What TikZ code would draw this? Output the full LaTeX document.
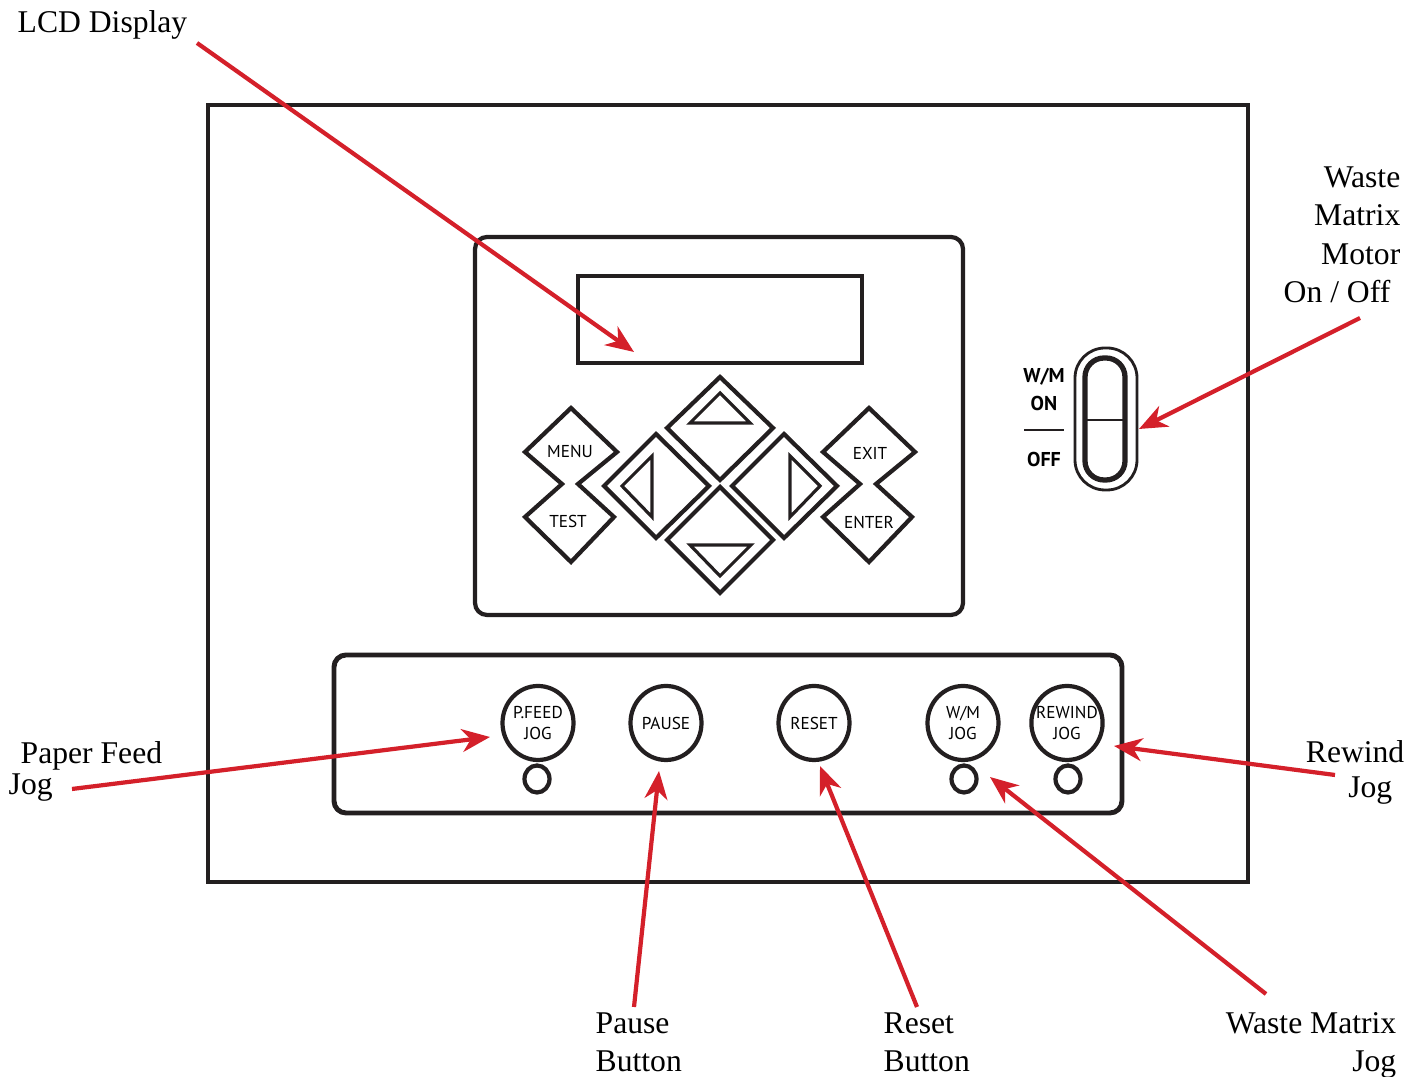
\documentclass[tikz,border=0pt]{standalone}
\usepackage{fontspec}
\setmainfont{Liberation Serif}
\newfontfamily\panelfont{PT Sans}
\usepackage{xcolor}
\usetikzlibrary{arrows.meta,shapes.geometric}
\definecolor{calloutred}{RGB}{212,32,42}
\definecolor{panelink}{RGB}{35,31,32}
\tikzset{
  lbl/.style={inner sep=0pt, font=\fontsize{9}{11}\selectfont},
  pointer/.style={-{Stealth[length=8pt,width=6.5pt,inset=2.5pt]}, draw=calloutred, line width=1.2pt},
  outline/.style={draw=panelink, line width=1.2pt},
  keytext/.style={inner sep=0pt, font=\panelfont\fontsize{4.9}{6}\selectfont},
  swtext/.style={inner sep=0pt, font=\panelfont\bfseries\fontsize{5.7}{6}\selectfont},
  btn/.style={ellipse, draw=panelink, line width=1.2pt, minimum width=7.1mm, minimum height=7.4mm,
              inner sep=0pt, align=center, font=\panelfont\fontsize{4.9}{6}\selectfont},
  led/.style={ellipse, draw=panelink, line width=1.2pt, minimum width=2.5mm, minimum height=2.7mm, inner sep=0pt},
}
\begin{document}
\begin{tikzpicture}[x=0.1mm, y=-0.1mm]
  \useasboundingbox (0,0) rectangle (1424,1077);

  % housing
  \draw[outline] (208,105) rectangle (1248,882);

  % keypad with display
  \draw[outline, rounded corners=1.2mm] (475,237) rectangle (963,615);
  \draw[outline] (578,276) rectangle (862,363);

  % menu / test and exit / enter keys
  \draw[outline] (571,408) -- (617,452) -- (578,484) -- (614,517) -- (571,562)
                 -- (525,517) -- (562,484) -- (525,452) -- cycle;
  \draw[outline] (869,408) -- (915,452) -- (876,484) -- (912,517) -- (869,562)
                 -- (823,517) -- (860,484) -- (823,452) -- cycle;
  \node[keytext] (menu) at (570,451) {MENU};
  \node[keytext] (test) at (568,521) {TEST};
  \node[keytext] (exit) at (870,453) {EXIT};
  \node[keytext] (enter) at (869,522) {ENTER};

  % arrow keys
  \draw[outline] (720,377) -- (773,428) -- (720,480) -- (667,428) -- cycle;
  \draw[outline, line width=0.9pt] (720,393) -- (750,423) -- (690,423) -- cycle;
  \draw[outline] (720,487) -- (773,540) -- (720,593) -- (667,540) -- cycle;
  \draw[outline, line width=0.9pt] (690,545) -- (751,545) -- (720,576) -- cycle;
  \draw[outline] (656,434) -- (709,486) -- (656,538) -- (604,486) -- cycle;
  \draw[outline, line width=0.9pt] (652,456) -- (652,517) -- (622,486) -- cycle;
  \draw[outline] (784,434) -- (837,486) -- (784,538) -- (732,486) -- cycle;
  \draw[outline, line width=0.9pt] (790,456) -- (790,517) -- (820,486) -- cycle;

  % rocker switch
  \draw[outline, line width=0.8pt, rounded corners=3mm] (1075,348) rectangle (1137,490);
  \draw[outline, line width=1.5pt, rounded corners=1.9mm] (1085,358) rectangle (1125,480);
  \draw[outline, line width=0.8pt] (1085,420) -- (1125,420);
  \node[swtext, anchor=base] (swwm) at (1044,383) {W/M};
  \node[swtext, anchor=base] (swon) at (1044,411) {ON};
  \draw[outline, line width=0.5pt] (1024,430) -- (1064,430);
  \node[swtext, anchor=base] (swoff) at (1044,467) {OFF};

  % button strip
  \draw[outline, line width=1.4pt, rounded corners=1.2mm] (334,655) rectangle (1122,813);
  \node[btn] (pfeed) at (538,723) {P.FEED\\JOG};
  \node[btn] (pause) at (666,723) {PAUSE};
  \node[btn] (reset) at (814,723) {RESET};
  \node[btn] (wmjog) at (963,723) {W/M\\JOG};
  \node[btn, inner xsep=-1.6pt] (rewind) at (1067,723) {REWIND\\JOG};
  \node[led] (pfled) at (537,779) {};
  \node[led] (wmled) at (964,779) {};
  \node[led] (rwled) at (1068,779) {};

  % callout texts
  \node[lbl, anchor=base west] (lcdlbl) at (17,33) {LCD Display};
  \node[lbl, anchor=base east, align=right] (motorlbl) at (1401,303) {Waste\\Matrix\\Motor\\On / Off\hspace*{1mm}};
  \node[lbl, anchor=base west, align=left] (pflbl) at (20,795) {Paper Feed\\[-1.9pt]\hspace*{-1.2mm}Jog};
  \node[lbl, anchor=base east, align=right] (rwlbl) at (1405,798) {Rewind\\[-1pt]Jog\hspace*{1.2mm}};
  \node[lbl, anchor=base west, align=left] (pauselbl) at (595,1072) {Pause\\Button};
  \node[lbl, anchor=base west, align=left] (resetlbl) at (883,1072) {Reset\\Button};
  \node[lbl, anchor=base east, align=right] (wmjoglbl) at (1397,1072) {Waste Matrix\\Jog};

  % callout arrows
  \coordinate (lcdtail) at (197,43);    \coordinate (lcdtip) at (634,352);
  \coordinate (motortail) at (1360,318); \coordinate (motortip) at (1139,429);
  \coordinate (pftail) at (72,789);     \coordinate (pftip) at (490,737);
  \coordinate (pausetail) at (634,1007); \coordinate (pausetip) at (659,771);
  \coordinate (resettail) at (917,1007); \coordinate (resettip) at (820,766);
  \coordinate (wmtail) at (1266,994);   \coordinate (wmtip) at (990,777);
  \coordinate (rwtail) at (1335,775);   \coordinate (rwtip) at (1114,746);
  \draw[pointer] (lcdtail) -- (lcdtip);
  \draw[pointer] (motortail) -- (motortip);
  \draw[pointer] (pftail) -- (pftip);
  \draw[pointer] (pausetail) -- (pausetip);
  \draw[pointer] (resettail) -- (resettip);
  \draw[pointer] (wmtail) -- (wmtip);
  \draw[pointer] (rwtail) -- (rwtip);
\end{tikzpicture}
\end{document}
